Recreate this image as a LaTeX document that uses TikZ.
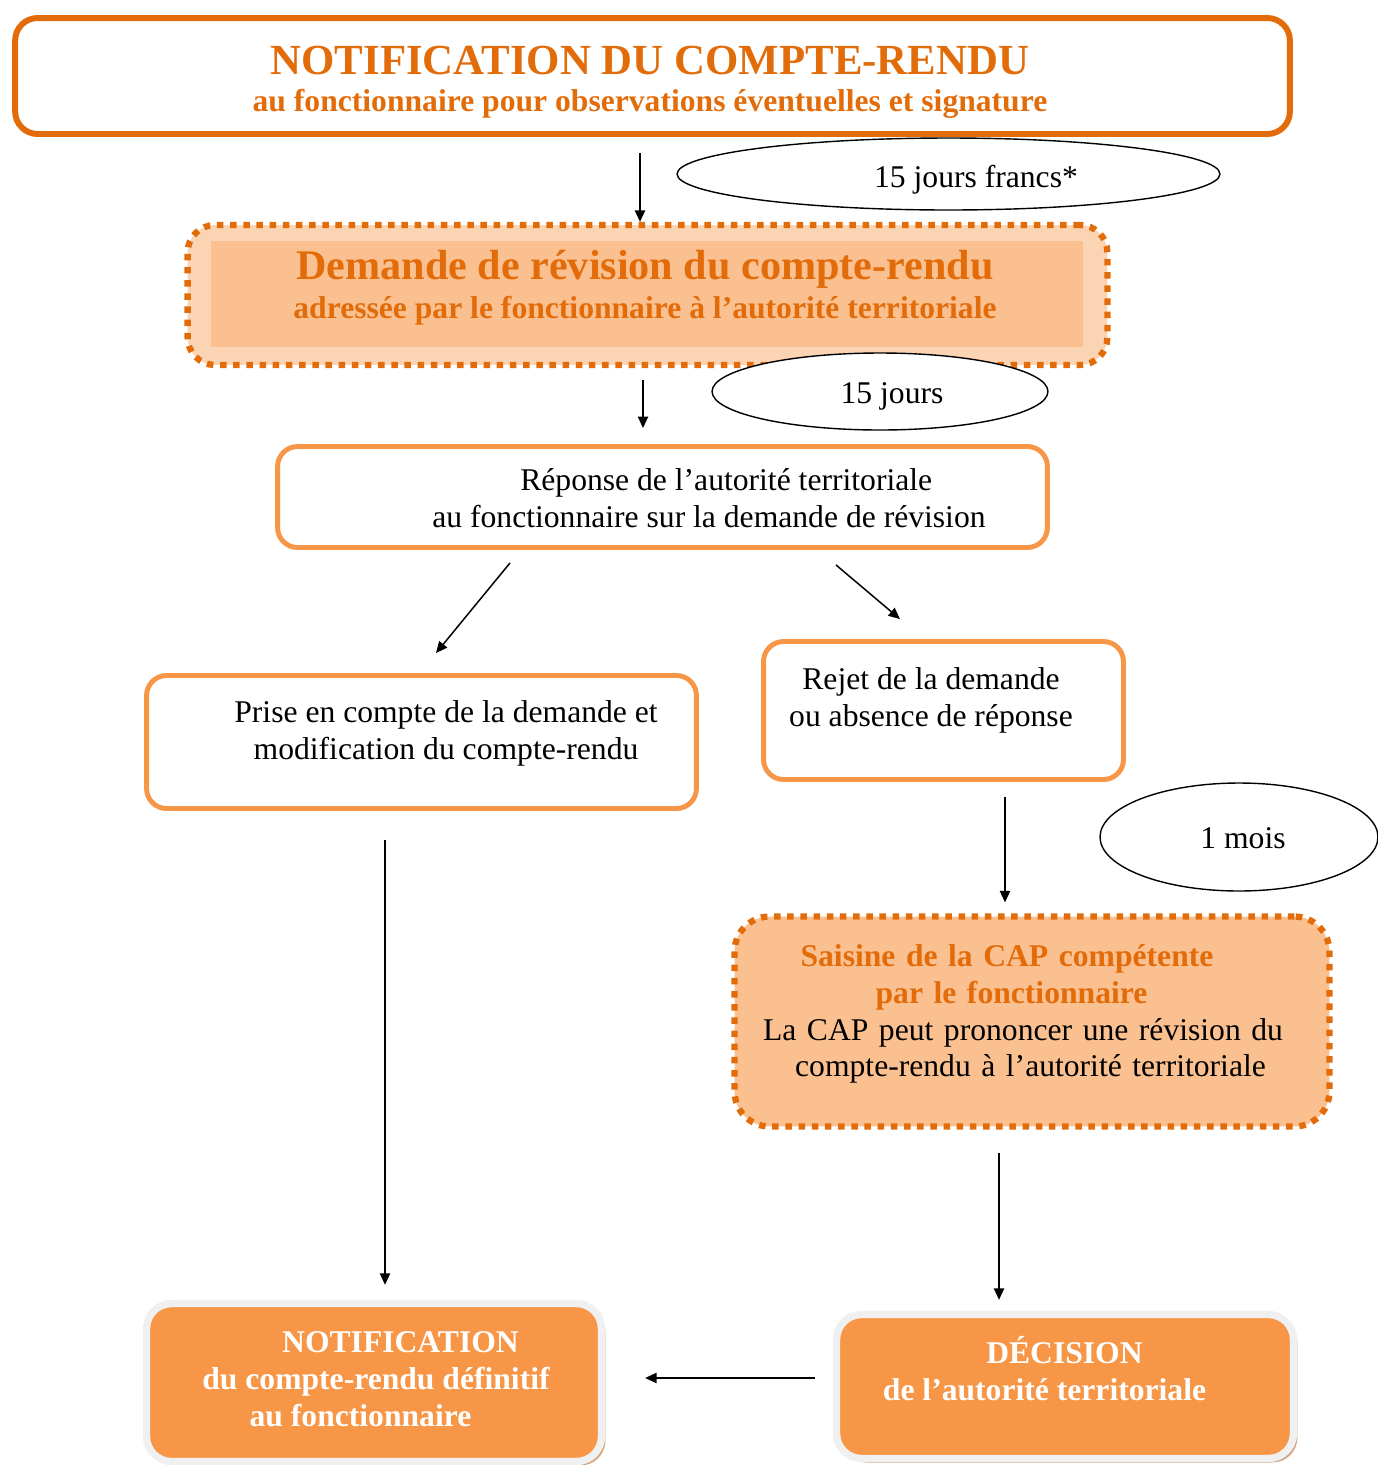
\documentclass[tikz,border=0pt]{standalone}
\usepackage{fontspec}
\setmainfont{Liberation Serif}
\usetikzlibrary{shapes.geometric,arrows.meta,shadows}

\definecolor{orfonce}{HTML}{E36C0A}
\definecolor{ormoyen}{HTML}{F79646}
\definecolor{orclair}{HTML}{FBD4B4}
\definecolor{orpeche}{HTML}{FAC090}
\definecolor{ombre}{HTML}{D2A582}
\definecolor{bordgris}{HTML}{F0F0F0}

\begin{document}
\begin{tikzpicture}[x=0.02cm, y=-0.02cm]

  \tikzset{
    txt/.style       = {font=\fontsize{18}{21}\selectfont, inner sep=0pt, align=center},
    titre/.style     = {txt, font=\fontsize{18}{21}\selectfont\bfseries, text=orfonce},
    blanc/.style     = {txt, font=\fontsize{18}{21}\selectfont\bfseries, text=white},
    cadre/.style     = {draw=ormoyen, line width=2.8pt, rounded corners=0.4cm, inner sep=0pt},
    pointille/.style = {draw=orfonce, line width=3.6pt, dash pattern=on 3.7pt off 3.8pt,
                        rounded corners=0.55cm, inner sep=0pt},
    bulle/.style     = {ellipse, draw, line width=0.8pt, fill=white, inner sep=0pt},
    plein/.style     = {fill=ormoyen, draw=bordgris, line width=4.2pt, rounded corners=0.5cm,
                        inner sep=0pt, drop shadow={shadow xshift=0.08cm, shadow yshift=-0.08cm,
                        fill=ombre, opacity=1}},
    fleche/.style    = {-{Triangle[length=6.5pt,width=5.8pt]}, line width=0.85pt},
  }

  \useasboundingbox (0,0) rectangle (1378,1465);

  % ---- notification du compte-rendu ---------------------------------------
  \node[cadre, draw=orfonce, line width=3.4pt, rounded corners=0.45cm,
        minimum width=25.5cm, minimum height=2.32cm] (notif) at (652.5,76) {};
  \node[titre] (notif-t) at (650,82)
    {{\fontsize{24.4}{24}\selectfont NOTIFICATION DU COMPTE-RENDU}\\
     au fonctionnaire pour observations éventuelles et signature};

  \node[bulle, minimum width=10.86cm, minimum height=1.44cm] (francs) at (948.5,174) {};
  \node[txt, anchor=base] (francs-t) at (976,187) {15 jours francs*};

  % ---- demande de revision ------------------------------------------------
  \node[pointille, fill=orclair, minimum width=18.4cm, minimum height=2.8cm]
    (demande) at (647.5,295) {};
  \node[fill=orpeche, inner sep=0pt, minimum width=17.44cm, minimum height=2.12cm]
    (demande-fond) at (647,294) {};
  \node[titre, font=\fontsize{18}{22}\selectfont\bfseries] (demande-t) at (645,288)
    {{\fontsize{24}{24}\selectfont Demande de révision du compte-rendu}\\
     adressée par le fonctionnaire à l’autorité territoriale};

  \node[bulle, minimum width=6.72cm, minimum height=1.54cm] (quinze) at (880,391.5) {};
  \node[txt, anchor=base] (quinze-t) at (892,403) {15 jours};

  % ---- reponse, puis les deux cas -----------------------------------------
  \node[cadre, minimum width=15.4cm, minimum height=2.02cm] (reponse) at (662.5,497) {};
  \node[txt, align=left, anchor=west] (reponse-t) at (432,498)
    {\hspace*{1.76cm}Réponse de l’autorité territoriale\\
     au fonctionnaire sur la demande de révision};

  \node[cadre, minimum width=11cm, minimum height=2.66cm] (prise) at (421.5,742) {};
  \node[txt] (prise-t) at (446,733)
    {Prise en compte de la demande et\\ modification du compte-rendu};

  \node[cadre, minimum width=7.2cm, minimum height=2.76cm] (rejet) at (943.5,710.5) {};
  \node[txt] (rejet-t) at (931,700) {Rejet de la demande\\ ou absence de réponse};

  \node[bulle, minimum width=5.56cm, minimum height=2.16cm] (mois) at (1239,837) {};
  \node[txt, anchor=base] (mois-t) at (1243,848) {1 mois};

  % ---- saisine de la CAP --------------------------------------------------
  \node[pointille, fill=orpeche, rounded corners=0.7cm, minimum width=11.9cm,
        minimum height=4.2cm] (cap) at (1032,1021.5) {};
  \node[txt, text width=10.7cm] (cap-t) at (1030.5,1014)
    {\textcolor{orfonce}{\bfseries Saisine de la CAP compétente\hspace*{0.94cm}}\\
     \textcolor{orfonce}{\bfseries par le fonctionnaire\hspace*{0.76cm}}\\
     \makebox[10.7cm][s]{La CAP peut prononcer une révision du}\\
     compte-rendu à l’autorité territoriale};

  % ---- bas de page ---------------------------------------------------------
  \node[plein, minimum width=9.1cm, minimum height=3.16cm] (final) at (374,1382.5) {};
  \node[blanc] (final-t) at (376,1379)
    {\hspace*{0.98cm}NOTIFICATION\\ du compte-rendu définitif\\ au fonctionnaire\hspace*{0.62cm}};

  \node[plein, minimum width=9.14cm, minimum height=2.88cm] (decision) at (1065,1386.5) {};
  \node[blanc] (decision-t) at (1044.5,1369)
    {\hspace*{0.8cm}DÉCISION\\ de l’autorité territoriale};

  % ---- fleches ---------------------------------------------------------------
  \draw[fleche, shorten <=0.32cm] (notif.south -| 640,0) -- (demande.north -| 640,0);
  \draw[fleche, shorten <=0.24cm, shorten >=0.32cm]
    (demande.south -| 643,0) -- (reponse.north -| 643,0);
  \draw[fleche] ([shift={(-152.5,13)}]reponse.south) -- ([shift={(14.5,-20)}]prise.north);
  \draw[fleche] ([shift={(173.5,15)}]reponse.south) -- ([shift={(-43.5,-20)}]rejet.north);
  \draw[fleche, shorten <=0.3cm, shorten >=0.22cm] (rejet.south -| 1005,0) -- (cap.north -| 1005,0);
  \draw[fleche, shorten <=0.58cm, shorten >=0.3cm] (prise.south -| 385,0) -- (final.north -| 385,0);
  \draw[fleche, shorten <=0.46cm, shorten >=0.22cm]
    (cap.south -| 999,0) -- (decision.north -| 999,0);
  \draw[fleche, shorten <=0.36cm, shorten >=0.8cm]
    (decision.west |- 0,1378) -- (final.east |- 0,1378);

\end{tikzpicture}
\end{document}
